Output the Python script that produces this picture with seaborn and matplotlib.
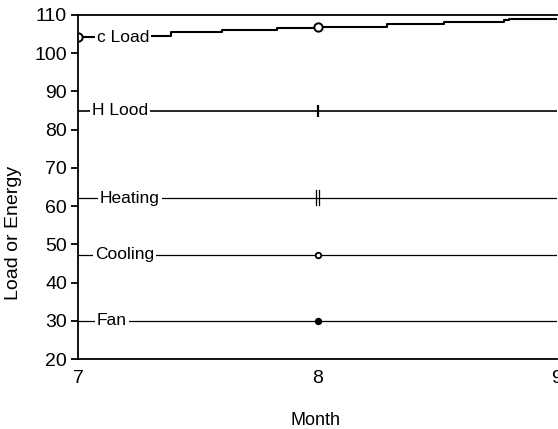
import matplotlib
matplotlib.use("Agg")
import matplotlib.pyplot as plt
import seaborn as sns
import numpy as np

# C Load is a slowly stepping curve, the other series stay flat over the period
c_load_month = [7.0, 7.30, 7.39, 7.60, 7.83, 8.0, 8.29, 8.53, 8.78, 8.80, 9.0]
c_load_value = [104.2, 104.6, 105.6, 106.1, 106.5, 106.9, 107.6, 108.2, 108.7, 108.9, 108.9]

flat_month = [7.0, 8.0, 9.0]
h_load = [85.0, 85.0, 85.0]
heating = [62.0, 62.0, 62.0]
cooling = [47.3, 47.3, 47.3]
fan = [30.0, 30.0, 30.0]

series_names = ["c Load", "H Lood", "Heating", "Cooling", "Fan"]
y_ticks = [20, 30, 40, 50, 60, 70, 80, 90, 100, 110]
x_ticks = [7, 8, 9]

sns.set_theme(style="ticks")
plt.rcParams["font.family"] = ["Liberation Sans", "DejaVu Sans"]
plt.rcParams["text.color"] = "black"
plt.rcParams["axes.labelcolor"] = "black"

fig = plt.figure(figsize=(5.58, 4.29), dpi=100)
ax = fig.add_axes([78 / 558, 1 - 359 / 429, 479 / 558, 344 / 429])

# C Load, stepped with open circles at the start and at month 8
sns.lineplot(x=c_load_month, y=c_load_value, ax=ax, color="black", lw=1.5,
             drawstyle="steps-post", marker="o", markevery=[0, 5], ms=6,
             mfc="white", mec="black", mew=1.4, sort=False)

sns.lineplot(x=flat_month, y=h_load, ax=ax, color="black", lw=1.2,
             marker="|", markevery=[1], ms=8, mec="black", mew=1.6, sort=False)
# heating gets a double tick at month 8
sns.lineplot(x=flat_month, y=heating, ax=ax, color="black", lw=0.9,
             marker="$\u2016$", markevery=[1], ms=11, mfc="black", mec="black",
             mew=0.2, sort=False)
sns.lineplot(x=flat_month, y=cooling, ax=ax, color="black", lw=0.9,
             marker="o", markevery=[1], ms=4, mfc="white", mec="black",
             mew=1.3, sort=False)
sns.lineplot(x=flat_month, y=fan, ax=ax, color="black", lw=0.9,
             marker="o", markevery=[1], ms=4.5, mfc="black", mec="black",
             sort=False)

# inline labels sitting on the lines
label_y = [c_load_value[0], h_load[0], heating[0], cooling[0], fan[0]]
label_x = [7.079, 7.058, 7.092, 7.071, 7.079]
for name, lx, ly in zip(series_names, label_x, label_y):
    ax.text(lx, ly, name, ha="left", va="center", fontsize=12.5, color="black",
            bbox=dict(facecolor="white", edgecolor="none", pad=1.5), zorder=5)

ax.set_xlim(7, 9)
ax.set_ylim(20, 110)
ax.set_xticks(x_ticks)
ax.set_yticks(y_ticks)
ax.tick_params(axis="y", direction="out", length=5, width=1.3, pad=3,
               labelsize=14, colors="black")
ax.tick_params(axis="x", length=0, pad=8, labelsize=14, colors="black")

for side in ["left", "top", "bottom"]:
    ax.spines[side].set_color("black")
    ax.spines[side].set_linewidth(1.3)
ax.spines["right"].set_visible(False)

ax.set_xlabel("Month", fontsize=13)
ax.set_ylabel("Load or Energy", fontsize=14)
ax.xaxis.set_label_coords(0.495, -0.154)
ax.yaxis.set_label_coords(-0.117, 0.366)

fig.savefig("out.png", dpi=100)
